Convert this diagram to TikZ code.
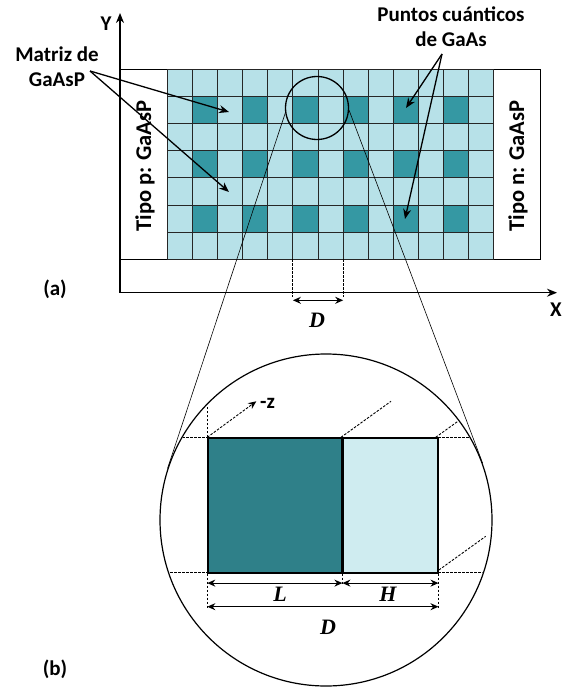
\documentclass[tikz,border=0pt]{standalone}
\usepackage{fontspec}
\setmainfont{Carlito}
\newfontfamily\dimfont{Liberation Serif}
\usetikzlibrary{arrows.meta, calc}
\definecolor{dotteal}{RGB}{53,152,163}
\definecolor{matcyan}{RGB}{183,225,232}
\definecolor{zoomteal}{RGB}{47,128,137}
\definecolor{zoomcyan}{RGB}{207,236,240}

\begin{document}
\begin{tikzpicture}[x=1pt, y=-1pt,
  lbl/.style={font=\fontsize{21}{25}\selectfont\bfseries, align=center, inner sep=0pt},
  dim/.style={font=\dimfont\fontsize{22}{26}\selectfont\bfseries\itshape, inner sep=0pt},
  arr/.style={-{Stealth[length=10pt, width=8pt]}, line width=1.3pt},
  dimarr/.style={{Stealth[length=8pt, width=7pt]}-{Stealth[length=8pt, width=7pt]}, line width=1.2pt},
  guide/.style={dash pattern=on 2.5pt off 1.5pt, line width=0.9pt},
  cellline/.style={line width=1pt, draw=black!85},
  ring/.style={draw, circle, inner sep=0pt, line width=1.3pt},
  piece/.style={draw, line width=1.4pt, anchor=north west, minimum height=135pt, inner sep=0pt},
]
  \useasboundingbox (0,0) rectangle (569,687);

  \draw[line width=1pt] (120,69.3) rectangle (540.7,259.3);
  \begin{scope}[xshift=167.3pt, yshift=-69.3pt, x=25.13pt, y=-27.14pt]
    \fill[matcyan] (0,0) rectangle (13,7);
    \foreach \r in {1,3,5} \foreach \c in {1,3,...,11}
      \fill[dotteal] (\c,\r) rectangle ++(1,1);
    \foreach \c in {0,...,13} \draw[cellline] (\c,0) -- (\c,7);
    \foreach \r in {0,...,7} \draw[cellline] (0,\r) -- (13,\r);
  \end{scope}
  \node[lbl, rotate=90, font=\fontsize{22.5}{26}\selectfont\bfseries] (ptype) at (145,166) {Tipo p: GaAsP};
  \node[lbl, rotate=90, font=\fontsize{22.5}{26}\selectfont\bfseries] (ntype) at (518,166) {Tipo n: GaAsP};

  \coordinate (o) at (120,292.7);
  \coordinate (ytip) at (120,13);
  \coordinate (xtip) at (557,292.7);
  \draw[arr] (o) -- (ytip);
  \draw[arr] (o) -- (xtip);
  \node[lbl] (ylab) at (106,24) {Y};
  \node[lbl] (xlab) at (556,310) {X};
  \node[lbl] (alab) at (55,289) {(a)};

  \node[lbl] (matriz) at (57,67) {Matriz de\\GaAsP};
  \coordinate (mfrom) at (90,71);
  \coordinate (m1) at (229,112);
  \coordinate (m2) at (229,192);
  \draw[arr] (mfrom) -- (m1);
  \draw[arr] (mfrom) -- (m2);

  \node[lbl] (puntos) at (451,27) {Puntos cuánticos\\de GaAs};
  \coordinate (pfrom) at (442,54);
  \coordinate (p1) at (406,108);
  \coordinate (p2) at (405,219);
  \draw[arr] (pfrom) -- (p1);
  \draw[arr] (pfrom) -- (p2);

  \node[ring, minimum size=63pt] (spot) at (317,108) {};
  \coordinate (da) at (292.9,259.3);
  \coordinate (db) at (343.2,259.3);
  \draw[guide] (da) -- ++(0,38);
  \draw[guide] (db) -- ++(0,38);
  \draw[dimarr] ($(da)+(0,41)$) -- ($(db)+(0,41)$);
  \node[dim] (dtop) at (317,320) {D};

  \node[ring, minimum size=332pt, line width=1.2pt] (lens) at (326,520) {};
  \draw[line width=0.6pt] (spot.189) -- (lens.162);
  \draw[line width=0.6pt] (spot.356) -- (lens.20);

  \begin{scope}
    \clip (326,520) circle[radius=165];
    \draw[guide] (150,437.3) -- (500,437.3);
    \draw[guide] (150,572.3) -- (500,572.3);
    \draw[guide] (341,437.3) -- ++(50,-36);
    \draw[guide] (435.7,437.3) -- ++(50,-36);
    \draw[guide] (435.7,572.3) -- ++(50,-36);
  \end{scope}
  \node[piece, fill=zoomteal, minimum width=133.7pt] (dotbox) at (207.3,437.3) {};
  \node[piece, fill=zoomcyan, minimum width=94.7pt] (gapbox) at (dotbox.north east) {};

  \draw[guide, -{Stealth[length=8pt, width=7pt]}] (dotbox.north west) -- ++(49,-36) coordinate (ztip);
  \node[lbl, anchor=west] (zlab) at (260,403) {-z};
  \draw[guide] (dotbox.north west) -- ++(0,-32);
  \draw[guide] (dotbox.south west) -- ++(0,34);
  \draw[guide] (gapbox.south east) -- ++(0,34);
  \draw[guide] (dotbox.south east) -- ++(0,12);

  \draw[dimarr] ($(dotbox.south west)+(0,9.4)$) -- ($(dotbox.south east)+(0,9.4)$);
  \draw[dimarr] ($(gapbox.south west)+(0,9.4)$) -- ($(gapbox.south east)+(0,9.4)$);
  \draw[dimarr] ($(dotbox.south west)+(0,33)$) -- ($(gapbox.south east)+(0,33)$);
  \node[dim] (llab) at (280,594) {L};
  \node[dim] (hlab) at (388,594) {H};
  \node[dim] (dlab) at (328,627) {D};
  \node[lbl] (blab) at (55,669) {(b)};
\end{tikzpicture}
\end{document}
